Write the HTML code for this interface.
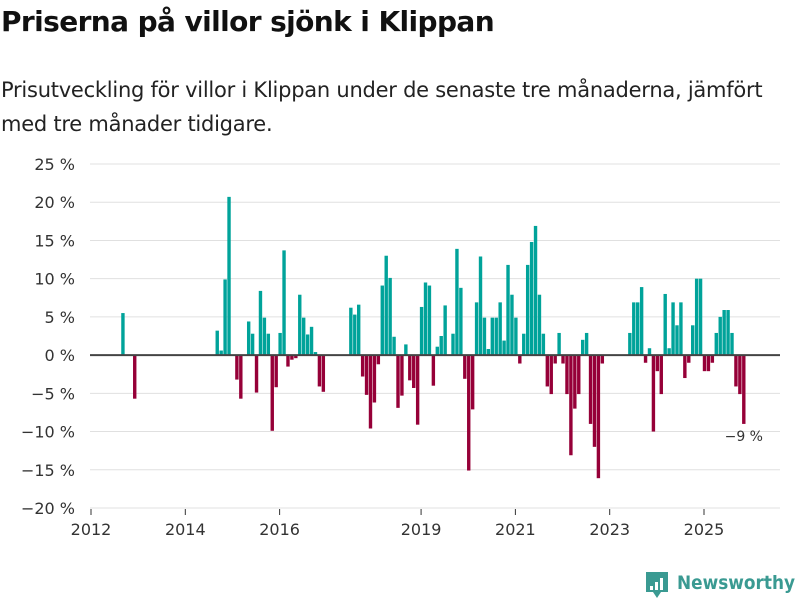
<!DOCTYPE html>
<html><head><meta charset="utf-8"><style>
body{margin:0;background:#fff;font-family:"Liberation Sans","DejaVu Sans",sans-serif;}
#wrap{position:relative;width:800px;height:600px;overflow:hidden}
h1{position:absolute;left:1px;top:5px;margin:0;font-size:28px;font-weight:bold;color:#111;font-family:"DejaVu Sans","Liberation Sans",sans-serif;letter-spacing:-0.6px}
p.sub{position:absolute;left:1px;top:73px;margin:0;font-size:21px;line-height:34px;color:#222;width:799px;font-family:"DejaVu Sans","Liberation Sans",sans-serif;letter-spacing:-0.25px}
svg text{font-family:"DejaVu Sans","Liberation Sans",sans-serif}
</style></head><body>
<div id="wrap">
<h1>Priserna på villor sjönk i Klippan</h1>
<p class="sub">Prisutveckling för villor i Klippan under de senaste tre månaderna, jämfört med tre månader tidigare.</p>
<svg id="chart" width="800" height="600" style="position:absolute;left:0;top:0"></svg>
</div>
<script>
const startYear = 2012;
const yTicks = [25,20,15,10,5,0,-5,-10,-15,-20];
const xTickYears = [2012,2014,2016,2019,2021,2023,2025];
const values = [null,null,null,null,null,null,null,null,5.5,null,null,-5.7,
null,null,null,null,null,null,null,null,null,null,null,null,
null,null,null,null,null,null,null,null,3.2,0.6,9.9,20.7,
null,-3.2,-5.7,null,4.4,2.8,-4.9,8.4,4.9,2.8,-9.9,-4.2,
2.9,13.7,-1.5,-0.6,-0.4,7.9,4.9,2.7,3.7,0.4,-4.1,-4.8,
null,null,null,null,null,null,6.2,5.3,6.6,-2.8,-5.2,-9.6,
-6.2,-1.2,9.1,13.0,10.1,2.4,-6.9,-5.3,1.4,-3.3,-4.3,-9.1,
6.3,9.5,9.1,-4.0,1.1,2.5,6.5,null,2.8,13.9,8.8,-3.1,
-15.1,-7.1,6.9,12.9,4.9,0.8,4.9,4.9,6.9,1.9,11.8,7.9,
4.9,-1.1,2.8,11.8,14.8,16.9,7.9,2.8,-4.1,-5.1,-1.1,2.9,
-1.1,-5.1,-13.1,-7.0,-5.1,2.0,2.9,-9.0,-12.0,-16.1,-1.1,null,
null,null,null,null,null,2.9,6.9,6.9,8.9,-1.0,0.9,-10.0,
-2.1,-5.1,8.0,0.9,6.9,3.9,6.9,-3.0,-1.0,3.9,10.0,10.0,
-2.1,-2.1,-1.0,2.9,5.0,5.9,5.9,2.9,-4.1,-5.1,-9.0];
const lastLabel = "−9 %";

const NS="http://www.w3.org/2000/svg";
const svg=document.getElementById('chart');
const x0=91, pxYear=613/13;
function xMonth(i){return x0 + 0.5 + i*pxYear/12;}
function xYear(y){return x0 + (y-startYear)*pxYear;}
const yTop=164, yBot=508, vTop=25, vBot=-20;
function y(v){return yTop + (vTop-v)*(yBot-yTop)/(vTop-vBot);}
function mk(tag,attrs){const e=document.createElementNS(NS,tag);for(const k in attrs)e.setAttribute(k,attrs[k]);svg.appendChild(e);return e;}

yTicks.forEach(t=>{
  if(t!==0){
    const g=mk('line',{x1:90,x2:780,y1:y(t),y2:y(t),stroke:'#e0e0e0','stroke-width':1});
    
    
  }
  const tx=mk('text',{x:75,y:y(t)+6,'text-anchor':'end','font-size':16,fill:'#333'});
  tx.textContent=(t<0?'−'+(-t):t)+' %';
  
  
});

values.forEach((v,i)=>{
  if(v===null)return;
  const cx=xMonth(i);
  const top=v>=0?y(v):y(0), h=Math.abs(y(v)-y(0));
  const r=mk('rect',{x:cx-1.7,y:top,width:3.4,height:h,fill:v>=0?'#00a39a':'#960038'});
  
  
});

const zl=mk('line',{x1:90,x2:780,y1:y(0),y2:y(0),stroke:'#444','stroke-width':2});



xTickYears.forEach(yr=>{
  const x=xYear(yr);
  const tk=mk('line',{x1:x,x2:x,y1:509,y2:515,stroke:'#333','stroke-width':1});
  
  
  const tx=mk('text',{x:x,y:535,'text-anchor':'middle','font-size':16,fill:'#333'});
  tx.textContent=yr;
  
  
});

const li=values.length-1;
const lb=mk('text',{x:xMonth(li)+0,y:y(values[li])+17,'text-anchor':'middle','font-size':14,fill:'#333'});
lb.textContent=lastLabel;



// logo
const lg=mk('g',{});


const ic=document.createElementNS(NS,'path');
ic.setAttribute('d','M646 572 h22 v20 h-7 l-4 6 l-4 -6 h-7 z');
ic.setAttribute('fill','#3a9a92');
lg.appendChild(ic);
[[650,586,3,4],[655,582,3,8],[660,578,3,12]].forEach(b=>{
  const r=document.createElementNS(NS,'rect');
  r.setAttribute('x',b[0]);r.setAttribute('y',b[1]);r.setAttribute('width',b[2]);r.setAttribute('height',b[3]);r.setAttribute('fill','#fff');
  lg.appendChild(r);
});
const lt=document.createElementNS(NS,'text');
lt.setAttribute('x',677);lt.setAttribute('y',589);lt.setAttribute('font-size',19);lt.setAttribute('font-weight','bold');lt.setAttribute('fill','#3a9a92');
lt.setAttribute('textLength',118);lt.setAttribute('lengthAdjust','spacingAndGlyphs');
lt.textContent='Newsworthy';
lg.appendChild(lt);
</script>
</body></html>
